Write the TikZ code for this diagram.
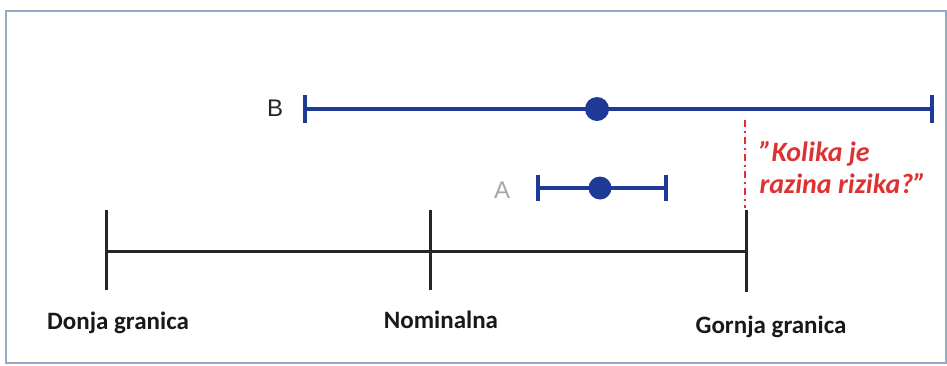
\documentclass[tikz,border=0pt]{standalone}
\usepackage{fontspec}
\setmainfont{Carlito}
\newfontfamily\arialfont{Liberation Sans}
\definecolor{barblue}{RGB}{30,58,150}
\definecolor{askred}{RGB}{222,50,50}
\definecolor{framec}{RGB}{150,170,200}
\begin{document}
\begin{tikzpicture}[x=1pt,y=-1pt,
  axisline/.style={line width=3pt,black!85},
  barline/.style={line width=3.4pt,barblue},
  dotmark/.style={circle,fill=barblue,inner sep=0pt,minimum size=24pt},
  lbl/.style={font=\fontsize{25}{28}\selectfont\bfseries,text=black!90},
  ask/.style={font=\fontsize{28}{32}\selectfont\bfseries\itshape,text=askred,align=left,anchor=west}]
\useasboundingbox (0,0) rectangle (947,365);
\draw[framec,line width=1.5pt] (6,11) rectangle (946,363);
% axis
\coordinate (lo) at (106,251);
\coordinate (nom) at (430,251);
\coordinate (hi) at (746,251);
\draw[axisline] (lo) -- (hi);
\draw[axisline] (106,210) -- (106,290);
\draw[axisline] (430,210) -- (430,290);
\draw[axisline] (746,210) -- (746,292);
\node[lbl] (lolbl) at (118,323) {Donja granica};
\node[lbl] (nomlbl) at (441,320) {Nominalna};
\node[lbl] (hilbl) at (771,327) {Gornja granica};
% B
\coordinate (bl) at (305,109);
\coordinate (br) at (932,109);
\draw[barline] (bl) -- (br);
\draw[barline] (305,95) -- (305,123);
\draw[barline] (932,95) -- (932,123);
\node[dotmark] (bdot) at (597,109) {};
\node[font=\arialfont\fontsize{24}{28}\selectfont,text=black!85] (blbl) at (275,108) {B};
% A
\coordinate (al) at (538,188);
\coordinate (ar) at (666,188);
\draw[barline] (al) -- (ar);
\draw[barline] (538,175) -- (538,201);
\draw[barline] (666,175) -- (666,201);
\node[dotmark,minimum size=23pt] (adot) at (600,188) {};
\node[font=\arialfont\fontsize{24}{28}\selectfont,text=black!35] (albl) at (502,190) {A};
% question
\coordinate (qtop) at (745,120);
\draw[askred,line width=1.8pt,dash pattern=on 7pt off 4pt on 2pt off 4pt] (qtop) -- (745,208);
\node[ask] (q) at (756,168) {"Kolika je\\razina rizika?"};
\end{tikzpicture}
\end{document}
